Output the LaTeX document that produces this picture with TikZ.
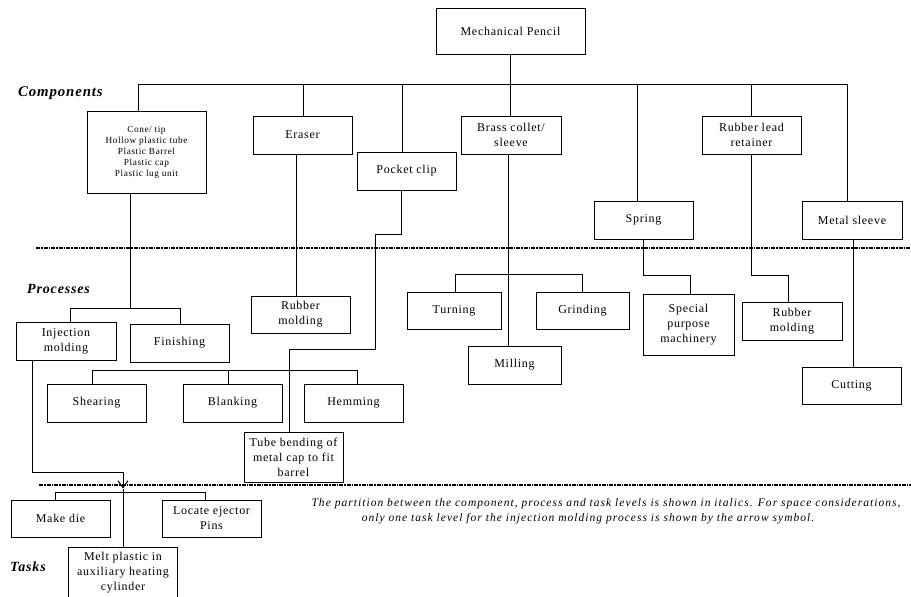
\documentclass[tikz,border=0pt]{standalone}
\usepackage{fontspec}
\setmainfont{Liberation Serif}[LetterSpace=6]
\usepackage{tikz}
\usetikzlibrary{arrows.meta}

\begin{document}
\begin{tikzpicture}[x=1pt, y=-1pt, >={Straight Barb[length=7pt, width=10pt, line width=1pt]},
    box/.style={draw, rectangle, line width=0.9pt, minimum width=99pt, minimum height=38pt, inner sep=1pt, align=center, font=\fontsize{12}{15}\selectfont},
    level/.style={anchor=west, inner sep=0pt, font=\fontsize{14}{16}\selectfont\bfseries\itshape},
    link/.style={line width=0.9pt},
    partition/.style={line width=1.3pt, dash pattern=on 4pt off 1pt on 1.5pt off 1pt}]
    \useasboundingbox (0,0) rectangle (911,597);

    % components
    \node [box, minimum width=149pt, minimum height=46pt] (pencil) at (510.5,31) {Mechanical Pencil};
    \node [box, minimum width=119pt, minimum height=82pt, font=\fontsize{9.3}{11}\selectfont] (cone) at (146.5,152) {Cone/ tip\\Hollow plastic tube\\Plastic Barrel\\Plastic cap\\Plastic lug unit};
    \node [box] (eraser) at (302.5,135) {Eraser};
    \node [box] (clip) at (406.5,171) {Pocket clip};
    \node [box, minimum width=100pt] (brass) at (511,135) {Brass collet/\\sleeve};
    \node [box] (spring) at (643.5,220) {Spring};
    \node [box] (retainer) at (751.5,135) {Rubber lead\\retainer};
    \node [box, minimum width=100pt] (msleeve) at (852,220) {Metal sleeve};

    % processes
    \node [box, minimum width=100pt] (injection) at (66,341) {Injection\\molding};
    \node [box] (finishing) at (179.5,343) {Finishing};
    \node [box, minimum height=37pt] (rmoldA) at (300.5,314.5) {Rubber\\molding};
    \node [box] (shearing) at (96.5,403) {Shearing};
    \node [box] (blanking) at (232.5,403) {Blanking};
    \node [box] (hemming) at (353.5,403) {Hemming};
    \node [box, minimum height=50pt] (tube) at (293.5,457) {Tube bending of\\metal cap to fit\\barrel};
    \node [box, minimum width=94pt, minimum height=37pt] (turning) at (454,310.5) {Turning};
    \node [box, minimum width=93pt, minimum height=37pt] (grinding) at (582.5,310.5) {Grinding};
    \node [box, minimum width=93pt] (milling) at (514.5,365) {Milling};
    \node [box, minimum width=91pt, minimum height=61pt] (special) at (688.5,324.5) {Special\\purpose\\machinery};
    \node [box, minimum width=100pt] (rmoldB) at (792,321) {Rubber\\molding};
    \node [box, minimum height=37pt] (cutting) at (851.5,385.5) {Cutting};

    % tasks
    \node [box, minimum height=37pt] (makedie) at (60.5,518.5) {Make die};
    \node [box, minimum height=37pt] (ejector) at (211.5,518.5) {Locate ejector\\Pins};
    \node [box, minimum width=109pt, minimum height=52pt] (melt) at (123,573) {Melt plastic in\\auxiliary heating\\cylinder};

    \node [level, font=\fontsize{14.8}{16}\selectfont\bfseries\itshape] (components) at (18,93) {Components};
    \node [level] (processes) at (27,289) {Processes};
    \node [level] (tasks) at (10,567) {Tasks};
    \node [align=center, font=\fontsize{11.5}{15}\selectfont\itshape\addfontfeatures{LetterSpace=9}] (note) at (606,511.5) {The partition between the component, process and task levels is shown in italics. For space considerations,\\only one task level for the injection molding process is shown by the arrow symbol.\hspace*{36pt}};

    \draw [partition] (36,248) -- (911,248);
    \draw [partition] (39,485) -- (911,485);

    % pencil to components
    \coordinate (bus) at (0,84);
    \draw [link] (pencil.south) -- (pencil.south |- bus);
    \draw [link] ([xshift=-8.5pt]cone.north) |- ([xshift=-5pt]msleeve.north |- bus) -- ([xshift=-5pt]msleeve.north);
    \foreach \n/\dx in {eraser/0.5, clip/-4.5, brass/-1, spring/-6.5, retainer/-0.5}
        \draw [link] ([xshift=\dx pt]\n.north) -- ([xshift=\dx pt]\n.north |- bus);

    % components to processes
    \draw [link] ([xshift=-16.5pt]cone.south) -- ++(0,115) coordinate (coneknee);
    \draw [link] ([xshift=4pt]injection.north) |- (coneknee) -| ([xshift=0.5pt]finishing.north);
    \draw [link] ([xshift=-6.5pt]eraser.south) -- ([xshift=-6.5pt]eraser.south |- rmoldA.north);
    \draw [link] ([xshift=-5.5pt]clip.south) -- ++(0,44) -- ++(-26,0) -- ++(0,115) -| ([xshift=-4.5pt]tube.north);
    \draw [link] ([xshift=-4.5pt]shearing.north) -- ++(0,-13) -| ([xshift=3.5pt]hemming.north);
    \draw [link] ([xshift=-4.5pt]blanking.north) -- ++(0,-13);
    \draw [link] ([xshift=-3pt]brass.south) -- ([xshift=-3pt]brass.south |- milling.north);
    \draw [link] ([xshift=1pt]turning.north) -- ++(0,-17) -| ([xshift=-0.5pt]grinding.north);
    \draw [link] (spring.south) -- ++(0,36) -| ([xshift=1.5pt]special.north);
    \draw [link] (retainer.south) -- ++(0,121) -| ([xshift=-4pt]rmoldB.north);
    \draw [link] ([xshift=1pt]msleeve.south) -- ([xshift=1pt]msleeve.south |- cutting.north);

    % processes to tasks
    \draw [link, ->] ([xshift=-34pt]injection.south) -- ++(0,112) -| ([yshift=58pt]melt.north);
    \draw [link] ([yshift=58pt]melt.north) -- (melt.north);
    \draw [link] ([xshift=-5.5pt]makedie.north) -- ++(0,-7) -| ([xshift=-6.5pt]ejector.north);
\end{tikzpicture}
\end{document}
